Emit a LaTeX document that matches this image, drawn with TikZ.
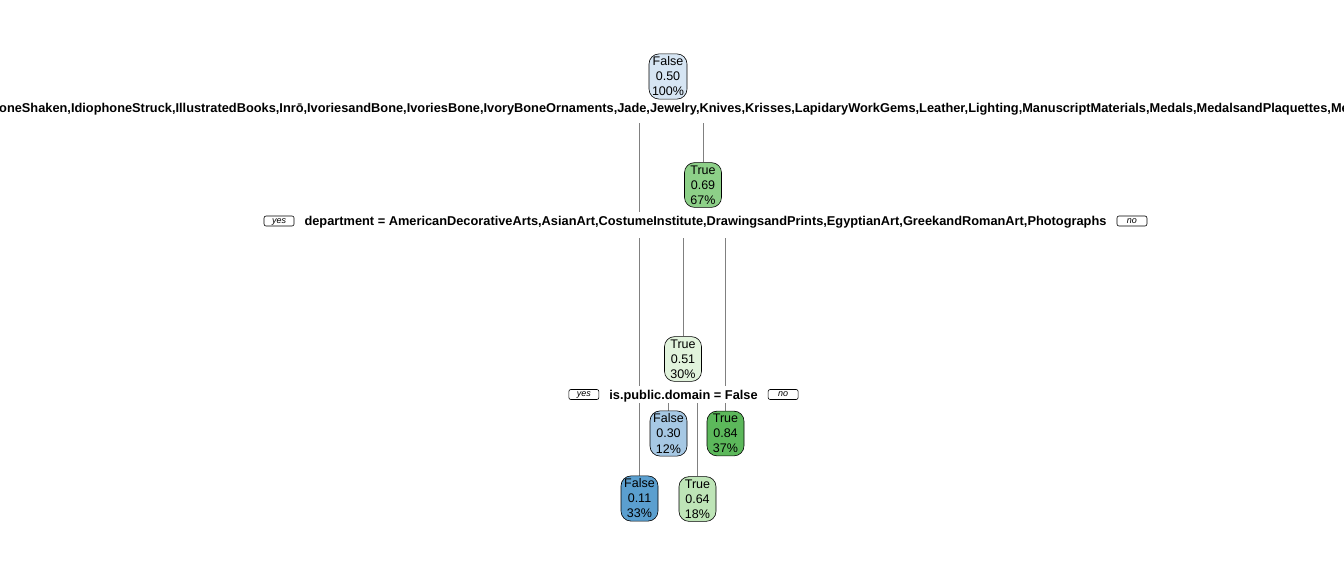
\documentclass[tikz,border=0pt]{standalone}
\usepackage{fontspec}
\setmainfont{Liberation Sans}
\usetikzlibrary{positioning, backgrounds}
\definecolor{rootblue}{HTML}{D6E5F3}
\definecolor{paleblue}{HTML}{A6C8E4}
\definecolor{deepblue}{HTML}{5B9FCF}
\definecolor{palegreen}{HTML}{E1F3DC}
\definecolor{lightgreen}{HTML}{BEE5B7}
\definecolor{midgreen}{HTML}{8DD088}
\definecolor{deepgreen}{HTML}{5CB85B}

\tikzset{
  leaf/.style={draw, rounded corners=10pt, align=center, inner xsep=3pt, inner ysep=3pt,
    minimum width=37pt, line width=0.6pt, font=\fontsize{12.5}{15}\selectfont},
  splitlab/.style={fill=white, inner xsep=10pt, inner ysep=0pt,
    font=\fontsize{12.8}{15}\selectfont\bfseries},
  yesno/.style={draw, rounded corners=2pt, minimum width=30pt, minimum height=10pt,
    inner sep=0pt, text height=5pt, text depth=1pt, line width=0.6pt,
    font=\fontsize{9}{9}\selectfont\itshape},
  branch/.style={draw, gray, line width=0.9pt}
}

\begin{document}
\begin{tikzpicture}[x=1pt, y=-1pt]
    \useasboundingbox (0,0) rectangle (1344,576);
    \clip (0,0) rectangle (1344,576);

    % split labels
    \node[splitlab, anchor=base west, text height=12pt, text depth=10.7pt] (s1) at (-11,112.3)
      {oneShaken,IdiophoneStruck,IllustratedBooks,Inrō,IvoriesandBone,IvoriesBone,IvoryBoneOrnaments,Jade,Jewelry,Knives,Krisses,LapidaryWorkGems,Leather,Lighting,ManuscriptMaterials,Medals,MedalsandPlaquettes,Me};
    \node[splitlab, anchor=base, text height=13.5pt, text depth=12.5pt] (s2) at (705.5,225.5)
      {department = AmericanDecorativeArts,AsianArt,CostumeInstitute,DrawingsandPrints,EgyptianArt,GreekandRomanArt,Photographs};
    \node[yesno] (yes2) [left=0pt of s2.west, yshift=4pt] {yes};
    \node[yesno] (no2) [right=0pt of s2.east, yshift=4pt] {no};
    \node[splitlab, anchor=base, text height=13.3pt, text depth=3.7pt] (s3) at (683.5,399.3)
      {is.public.domain = False};
    \node[yesno] (yes3) [left=0pt of s3.west] {yes};
    \node[yesno] (no3) [right=0pt of s3.east] {no};

    % boxes
    \node[leaf, fill=rootblue] (n1) at (668,76.5) {False\\0.50\\100\%};
    \node[leaf, fill=midgreen] (n2) at (703,185) {True\\0.69\\67\%};
    \node[leaf, fill=palegreen] (n3) at (683,359) {True\\0.51\\30\%};
    \node[leaf, fill=deepgreen] (n4) at (725.5,433.5) {True\\0.84\\37\%};
    \node[leaf, fill=paleblue] (n5) at (668.5,433.5) {False\\0.30\\12\%};
    \node[leaf, fill=deepblue] (n6) at (639.5,498.5) {False\\0.11\\33\%};
    \node[leaf, fill=lightgreen] (n7) at (697.5,499) {True\\0.64\\18\%};

    % branches, behind the labels
    \begin{scope}[on background layer]
    \path[branch]
    (s1.south -| n6) edge (n6)
    (s1.south -| n2) edge (n2);

    \path[branch]
    (s2.south -| n3) edge (n3)
    (s2.south -| n4) edge (n4);

    \path[branch]
    (s3.south -| n5) edge (n5)
    (s3.south -| n7) edge (n7);
    \end{scope}
\end{tikzpicture}
\end{document}
